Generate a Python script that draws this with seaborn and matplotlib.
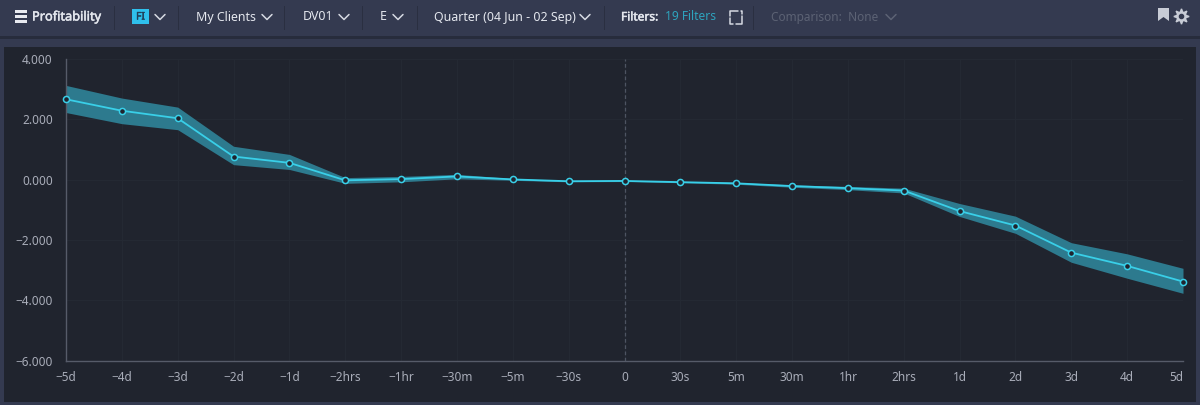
import pandas as pd
import seaborn as sns
import matplotlib.pyplot as plt
import matplotlib.patheffects as pe
from matplotlib.patches import Rectangle, Polygon

# chart values
periods = ['−5d', '−4d', '−3d', '−2d', '−1d', '−2hrs', '−1hr', '−30m', '−5m', '−30s', '0',
           '30s', '5m', '30m', '1hr', '2hrs', '1d', '2d', '3d', '4d', '5d']
profit = [2.67, 2.29, 2.04, 0.77, 0.56, -0.02, 0.02, 0.11, 0.01, -0.05, -0.04,
          -0.08, -0.12, -0.21, -0.28, -0.36, -1.04, -1.52, -2.42, -2.86, -3.38]
upper = [3.13, 2.71, 2.41, 1.11, 0.84, 0.07, 0.11, 0.18, 0.04, -0.03, -0.02,
         -0.06, -0.09, -0.17, -0.22, -0.28, -0.79, -1.21, -2.09, -2.46, -2.94]
lower = [2.23, 1.86, 1.66, 0.50, 0.34, -0.12, -0.07, 0.03, -0.02, -0.07, -0.06,
         -0.10, -0.15, -0.25, -0.33, -0.44, -1.22, -1.78, -2.74, -3.27, -3.77]
y_ticks = [4, 2, 0, -2, -4, -6]

df = pd.DataFrame({'period': periods, 'profit': profit})

BG = '#343a50'
PANEL = '#20242e'
CYAN = '#39cfe8'
BAND = '#2d7a8e'

sns.set_style('dark')
plt.rcParams['font.family'] = ['Noto Sans', 'DejaVu Sans']

fig = plt.figure(figsize=(12, 4.05), dpi=100, facecolor=BG)


def px(x, y):
    return x / 1200, 1 - y / 405


def box(x, y, w, h, color, **kw):
    fig.add_artist(Rectangle(px(x, y + h), w / 1200, h / 405, transform=fig.transFigure,
                             facecolor=color, edgecolor='none', **kw))


def label(x, y, s, color='#e4e7ee', size=8.9, heavy=False, **kw):
    t = fig.text(*px(x, y), s, color=color, fontsize=size, va='center', **kw)
    if heavy:
        t.set_path_effects([pe.withStroke(linewidth=0.35, foreground=color)])


def stroke(xs, ys, color='#d5d9e2', lw=1.1):
    fig.add_artist(plt.Line2D([a / 1200 for a in xs], [1 - b / 405 for b in ys],
                              transform=fig.transFigure, color=color, lw=lw))


def chevron(x, y, color='#d5d9e2'):
    stroke([x - 5, x, x + 5], [y - 2.5, y + 2.5, y - 2.5], color)


def gear_part(marker, ms, color):
    fig.add_artist(plt.Line2D([1181 / 1200], [1 - 15.5 / 405], transform=fig.transFigure,
                              marker=marker, ms=ms, mfc=color, mec=color, ls='none'))


# toolbar
box(0, 36, 1200, 3, '#272c3c')
box(4, 47, 1192, 355, PANEL)
for hy in (11.5, 16.5, 21.5):
    box(15, hy - 1, 12, 2, '#e8eaf0')
label(32, 17, 'Profitability', size=9.2, heavy=True)
box(132, 9, 17, 15, '#2fc0ec')
label(140.5, 17, 'FI', color='#20405a', size=7.5, ha='center', heavy=True)
chevron(160, 17)
label(196, 17, 'My Clients')
chevron(267, 17)
label(303, 17, 'DV01')
chevron(344, 17)
label(380, 17, 'E')
chevron(398, 17)
label(434, 17, 'Quarter (04 Jun - 02 Sep)')
chevron(585, 17)
label(621, 17, 'Filters:', size=8.6, heavy=True)
label(665, 17, '19 Filters', color='#2ea3bd', size=8.6)
# expand icon, four corners
stroke([730, 730, 733], [18, 24, 24])
stroke([730, 730, 738], [16, 11, 11])
stroke([741, 742, 742], [11, 11, 14])
stroke([742, 742, 736], [16, 24, 24])
label(771, 17, 'Comparison:  None', color='#5c6274', size=8.5)
chevron(891, 17, color='#5c6274')
for sx in (114, 178, 284, 362, 417, 604, 753):
    box(sx, 6, 1, 24, '#2a2f41')
fig.add_artist(Polygon([px(1158, 8), px(1169, 8), px(1169, 21), px(1163.5, 17), px(1158, 21)],
                       transform=fig.transFigure, facecolor='#c8ccd6', edgecolor='none'))
gear_part((8, 1, 0), 11, '#c8ccd6')
gear_part('o', 6.5, '#c8ccd6')
gear_part('o', 3, BG)

# plot area
left, right, top, bottom = 66, 1183, 59.2, 360.5
ax = fig.add_axes([left / 1200, 1 - bottom / 405, (right - left) / 1200, (bottom - top) / 405],
                  facecolor=PANEL)
ax.set_zorder(5)
ax.fill_between(periods, lower, upper, color=BAND, lw=0, zorder=2)
sns.lineplot(data=df, x='period', y='profit', sort=False, color=CYAN, lw=1.3, marker='o',
             markersize=4.4, markerfacecolor=PANEL, markeredgecolor=CYAN, markeredgewidth=1.1,
             clip_on=False, zorder=3, ax=ax)

ax.set_xlim(0, len(periods) - 1)
ax.set_ylim(-6, 4)
ax.set_xlabel('')
ax.set_ylabel('')
ax.set_yticks(y_ticks)
ax.set_yticklabels([f'{v:.3f}'.replace('-', '−') for v in y_ticks])
ax.tick_params(axis='both', colors='#a9adb9', labelsize=8.5, length=0)
ax.tick_params(axis='x', pad=7.5)
ax.tick_params(axis='y', pad=9.5)
ax.get_xticklabels()[-1].set_ha('right')
ax.grid(True, color='#252a34', lw=0.7)
ax.set_axisbelow(True)
ax.axvline(periods.index('0'), color='#4e5462', lw=0.9, ls=(0, (3, 2)), zorder=1)

for side in ('top', 'right'):
    ax.spines[side].set_visible(False)
for side in ('left', 'bottom'):
    ax.spines[side].set_visible(True)
    ax.spines[side].set_color('#565b69')
    ax.spines[side].set_linewidth(1)

fig.savefig('out.png', dpi=100, facecolor=BG)
